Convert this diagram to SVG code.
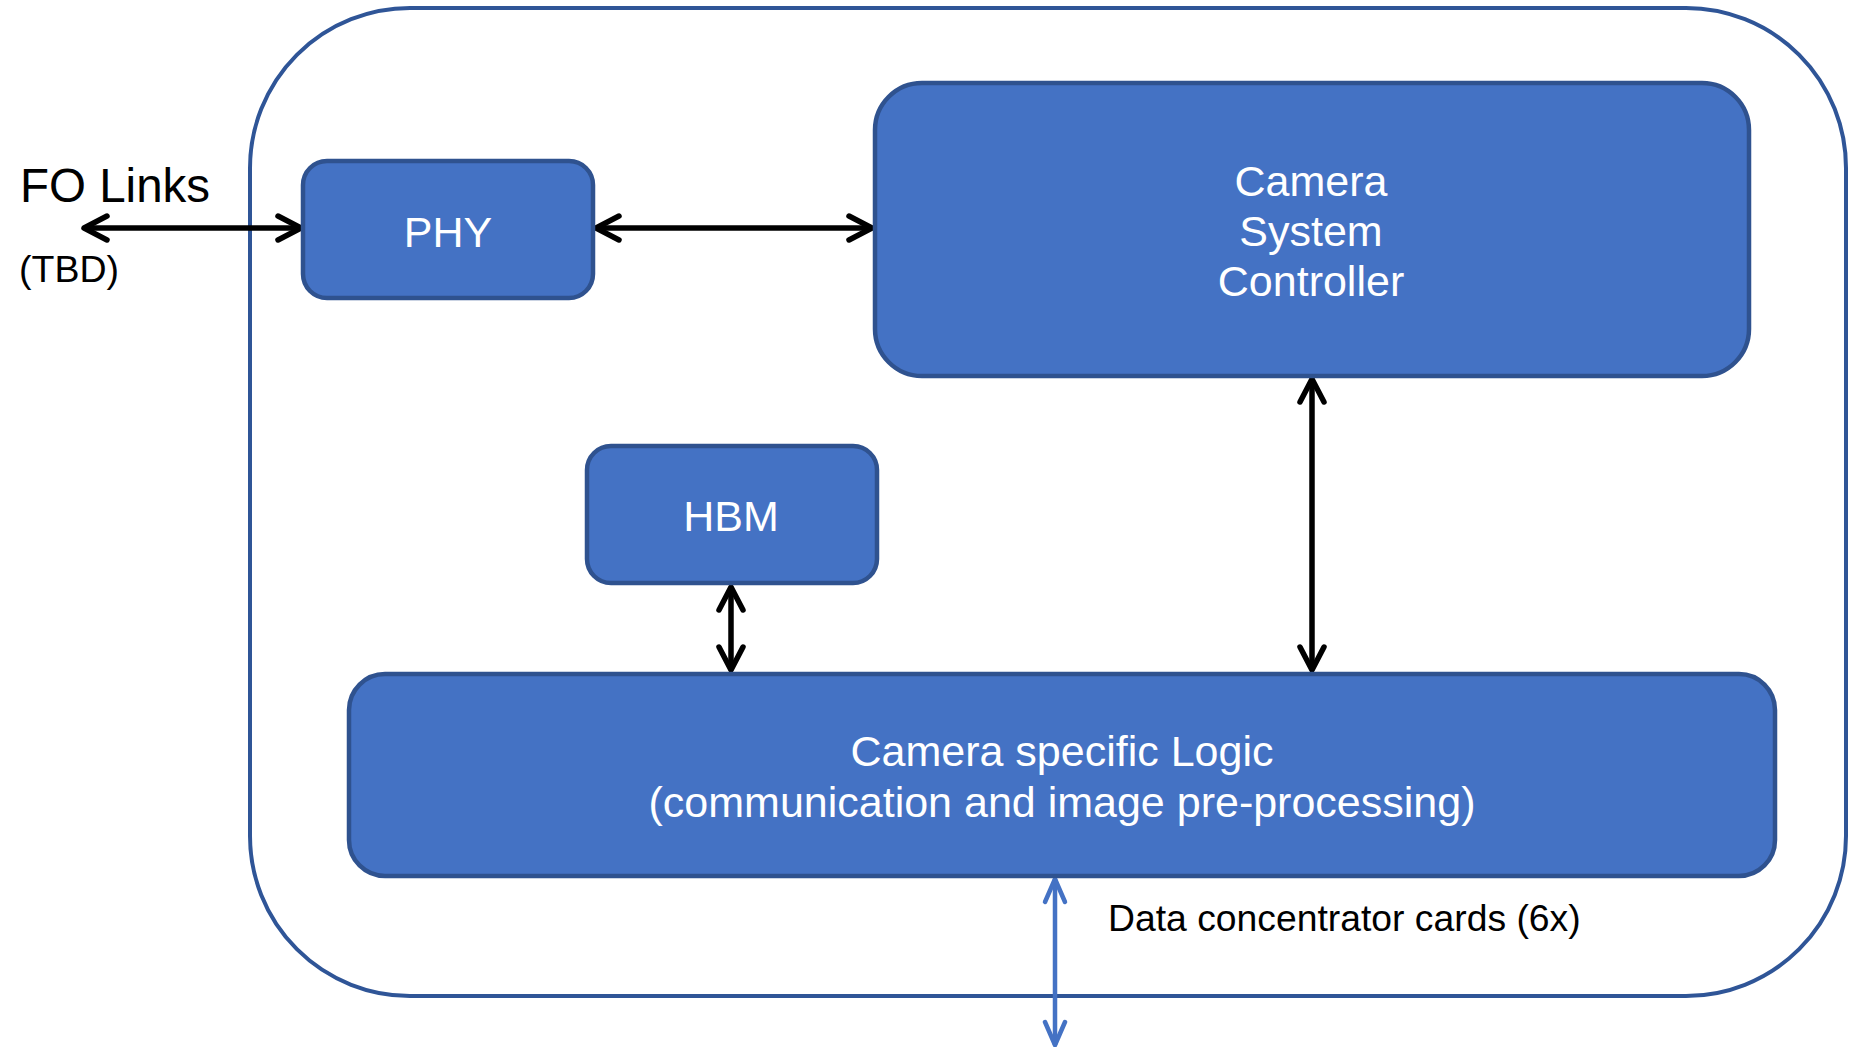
<svg xmlns="http://www.w3.org/2000/svg" width="1859" height="1047" viewBox="0 0 1859 1047">
<style>
.box{fill:#4472C4;stroke:#2F528F;stroke-width:4.5}
.lbl{font-family:"Liberation Sans",Arial,sans-serif;font-size:43px;fill:#FFFFFF;text-anchor:middle}
.txt{font-family:"Liberation Sans",Arial,sans-serif;fill:#000000}
.conn{fill:none;stroke:#000000;stroke-width:5.5}
.blue{fill:none;stroke:#4472C4;stroke-width:4.5}
</style>
<defs>
<marker id="ah" markerUnits="userSpaceOnUse" viewBox="-30 -16 34 32" refX="0" refY="0" markerWidth="34" markerHeight="32" orient="auto-start-reverse">
<path d="M -23 -12 L 0 0 L -23 12" fill="none" stroke="#000000" stroke-width="5.5" stroke-linecap="round" stroke-linejoin="round"/>
</marker>
<marker id="ahb" markerUnits="userSpaceOnUse" viewBox="-30 -16 34 32" refX="0" refY="0" markerWidth="34" markerHeight="32" orient="auto-start-reverse">
<path d="M -23 -10 L 0 0 L -23 10" fill="none" stroke="#4472C4" stroke-width="4.5" stroke-linecap="round" stroke-linejoin="round"/>
</marker>
</defs>
<g id="outer">
<rect x="250" y="8" width="1596" height="988" rx="160" ry="160" fill="none" stroke="#2F5597" stroke-width="4"/>
</g>
<g id="connectors">
<line class="conn" x1="84" y1="228" x2="301" y2="228" marker-start="url(#ah)" marker-end="url(#ah)"/>
<line class="conn" x1="596" y1="228" x2="872" y2="228" marker-start="url(#ah)" marker-end="url(#ah)"/>
<line class="conn" x1="1312" y1="379" x2="1312" y2="670" marker-start="url(#ah)" marker-end="url(#ah)"/>
<line class="conn" x1="731" y1="587" x2="731" y2="670" marker-start="url(#ah)" marker-end="url(#ah)"/>
<line class="blue" x1="1055" y1="879" x2="1055" y2="1045" marker-start="url(#ahb)" marker-end="url(#ahb)"/>
</g>
<g id="fo-links">
<text class="txt" x="20" y="202" font-size="47.5">FO Links</text>
<text class="txt" x="19" y="282" font-size="37.5">(TBD)</text>
</g>
<g id="phy">
<rect class="box" x="303" y="161" width="290" height="137" rx="24" ry="24"/>
<text class="lbl" x="448" y="247">PHY</text>
</g>
<g id="csc">
<rect class="box" x="875" y="83" width="874" height="293" rx="47" ry="47"/>
<text class="lbl" x="1311" y="196">Camera</text>
<text class="lbl" x="1311" y="246">System</text>
<text class="lbl" x="1311" y="296">Controller</text>
</g>
<g id="hbm">
<rect class="box" x="587" y="446" width="290" height="137" rx="24" ry="24"/>
<text class="lbl" x="731" y="531">HBM</text>
</g>
<g id="csl">
<rect class="box" x="349" y="674" width="1426" height="202" rx="36" ry="36"/>
<text class="lbl" x="1062" y="766">Camera specific Logic</text>
<text class="lbl" x="1062" y="817">(communication and image pre-processing)</text>
</g>
<g id="dcc">
<text class="txt" x="1108" y="931" font-size="37.3">Data concentrator cards (6x)</text>
</g>
</svg>
